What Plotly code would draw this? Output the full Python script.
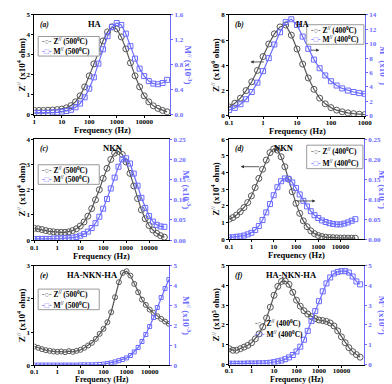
import plotly.graph_objects as go

GRAY = '#575757'
BLUE = '#6b6bff'
FONT = 'Liberation Serif'
W, H = 392, 384

# ---- data ----
FREQ_A = [1, 1.47, 2.15, 3.16, 4.64, 6.81, 10, 14.7, 21.5, 31.6, 46.4, 68.1,
          100, 147, 215, 316, 464, 681, 1000, 1470, 2150, 3160, 4640, 6810,
          10000, 14700, 21500, 31600, 46400, 68100]
Z_A = [0.22, 0.22, 0.22, 0.23, 0.24, 0.26, 0.29, 0.35, 0.46, 0.65, 0.95, 1.4,
       1.95, 2.55, 3.15, 3.7, 4.15, 4.4, 4.3, 3.9, 3.3, 2.6, 1.95, 1.4,
       0.95, 0.65, 0.45, 0.32, 0.22, 0.15]
M_A = [0.03, 0.03, 0.03, 0.03, 0.04, 0.04, 0.05, 0.06, 0.08, 0.12, 0.18, 0.28,
       0.42, 0.6, 0.82, 1.05, 1.26, 1.41, 1.47, 1.44, 1.3, 1.1, 0.9, 0.74,
       0.62, 0.54, 0.5, 0.49, 0.51, 0.56]

FREQ_B = [0.1, 0.147, 0.215, 0.316, 0.464, 0.681, 1, 1.47, 2.15, 3.16, 4.64,
          6.81, 10, 14.7, 21.5, 31.6, 46.4, 68.1, 100, 147, 215, 316, 464,
          681, 1000]
Z_B = [0.7, 1.0, 1.4, 2.0, 2.7, 3.6, 4.7, 5.7, 6.5, 7.05, 7.2, 6.4, 5.3, 4.1,
       3.0, 2.1, 1.4, 0.95, 0.65, 0.45, 0.32, 0.23, 0.17, 0.13, 0.1]
M_B = [0.8, 1.1, 1.6, 2.3, 3.3, 4.6, 6.2, 8.0, 9.9, 11.6, 13.0, 13.4, 12.6,
       11.0, 9.3, 7.8, 6.6, 5.6, 4.8, 4.2, 3.8, 3.5, 3.3, 3.15, 3.05]

FREQ_CD = [0.1, 0.147, 0.215, 0.316, 0.464, 0.681, 1, 1.47, 2.15, 3.16, 4.64,
           6.81, 10, 14.7, 21.5, 31.6, 46.4, 68.1, 100, 147, 215, 316, 464,
           681, 1000, 1470, 2150, 3160, 4640, 6810, 10000, 14700, 21500,
           31600, 46400]
Z_C = [0.47, 0.45, 0.42, 0.38, 0.35, 0.33, 0.31, 0.31, 0.31, 0.33, 0.38, 0.45,
       0.56, 0.72, 0.95, 1.25, 1.6, 2.0, 2.45, 2.85, 3.2, 3.45, 3.52, 3.4,
       3.1, 2.65, 2.15, 1.65, 1.2, 0.85, 0.58, 0.4, 0.27, 0.18, 0.12]
M_C = [0.003, 0.003, 0.003, 0.003, 0.003, 0.004, 0.004, 0.004, 0.005, 0.005,
       0.006, 0.008, 0.011, 0.015, 0.021, 0.03, 0.042, 0.058, 0.078, 0.102,
       0.128, 0.155, 0.182, 0.2, 0.203, 0.19, 0.165, 0.135, 0.105, 0.08,
       0.06, 0.046, 0.038, 0.034, 0.033]
Z_D = [1.2, 1.3, 1.45, 1.65, 1.9, 2.2, 2.6, 3.1, 3.65, 4.2, 4.75, 5.2, 5.42,
       5.35, 4.95, 4.35, 3.6, 2.85, 2.15, 1.55, 1.1, 0.75, 0.5, 0.33, 0.22,
       0.16, 0.12, 0.1, 0.09, 0.08, 0.07, 0.07, 0.06, 0.06, 0.06]
M_D = [0.004, 0.005, 0.006, 0.007, 0.009, 0.012, 0.016, 0.023, 0.033, 0.048,
       0.067, 0.088, 0.11, 0.13, 0.145, 0.152, 0.151, 0.142, 0.128, 0.112,
       0.096, 0.082, 0.07, 0.06, 0.053, 0.047, 0.043, 0.04, 0.038, 0.037,
       0.037, 0.039, 0.042, 0.046, 0.05]

FREQ_EF = [0.1, 0.147, 0.215, 0.316, 0.464, 0.681, 1, 1.47, 2.15, 3.16, 4.64,
           6.81, 10, 14.7, 21.5, 31.6, 46.4, 68.1, 100, 147, 215, 316, 464,
           681, 1000, 1470, 2150, 3160, 4640, 6810, 10000, 14700, 21500,
           31600, 46400, 68100]
Z_E = [0.57, 0.53, 0.49, 0.46, 0.44, 0.42, 0.41, 0.42, 0.4, 0.43, 0.41, 0.44,
       0.47, 0.53, 0.6, 0.68, 0.8, 0.95, 1.1, 1.3, 1.6, 2.05, 2.5, 2.78,
       2.83, 2.7, 2.45, 2.2, 1.98, 1.82, 1.68, 1.58, 1.48, 1.4, 1.32, 1.25]
M_E = [0.02, 0.02, 0.02, 0.02, 0.02, 0.02, 0.02, 0.02, 0.02, 0.02, 0.02, 0.02,
       0.03, 0.03, 0.03, 0.03, 0.04, 0.05, 0.07, 0.1, 0.13, 0.18, 0.24, 0.3,
       0.38, 0.5, 0.68, 0.9, 1.2, 1.55, 1.95, 2.4, 2.9, 3.4, 3.85, 4.3]
Z_F = [0.8, 0.72, 0.72, 0.8, 0.88, 0.97, 1.1, 1.3, 1.55, 1.9, 2.35, 2.9, 3.5,
       3.95, 4.2, 4.22, 4.05, 3.65, 3.25, 2.95, 2.72, 2.55, 2.42, 2.32, 2.25,
       2.22, 2.18, 2.1, 1.95, 1.7, 1.4, 1.1, 0.85, 0.65, 0.5, 0.37]
M_F = [0.04, 0.04, 0.04, 0.04, 0.04, 0.05, 0.05, 0.05, 0.06, 0.06, 0.07, 0.09,
       0.12, 0.16, 0.2, 0.27, 0.36, 0.48, 0.66, 0.9, 1.25, 1.7, 2.2, 2.7,
       3.2, 3.7, 4.1, 4.4, 4.6, 4.68, 4.72, 4.72, 4.65, 4.45, 4.2, 4.05]

X_TICKS_A = [1, 10, 100, 1000, 10000]
X_TICKS_B = [0.1, 1, 10, 100, 1000]
X_TICKS = [0.1, 1, 10, 100, 1000, 10000]

PANELS = [
    dict(tag='(a)', name='HA', freq=FREQ_A, z=Z_A, m=M_A, temp='500',
         box=(23, 3, 163, 105), xr=(0, 4.94), xt=X_TICKS_A,
         zmax=5, zdt=1, zexp='4', mmax=1.6, mdt=0.4, mfmt='.1f',
         title_x=86, leg=(27, 25, 90, 45, True)),
    dict(tag='(b)', name='HA', freq=FREQ_B, z=Z_B, m=M_B, temp='400',
         box=(224, 3, 364, 106), xr=(-1, 3), xt=X_TICKS_B,
         zmax=8, zdt=2, zexp='6', mmax=14, mdt=2, mfmt='d',
         title_x=300, leg=(304, 13, 363, 33, True)),
    dict(tag='(c)', name='NKN', freq=FREQ_CD, z=Z_C, m=M_C, temp='500',
         box=(23, 130, 162, 233), xr=(-1, 4.87), xt=X_TICKS,
         zmax=4, zdt=1, zexp='4', mmax=0.25, mdt=0.05, mfmt='.2f',
         title_x=104, leg=(27, 156, 90, 176, True)),
    dict(tag='(d)', name='NKN', freq=FREQ_CD, z=Z_D, m=M_D, temp='400',
         box=(224, 130, 363, 232), xr=(-1, 5.05), xt=X_TICKS,
         zmax=6, zdt=1, zexp='4', mmax=0.25, mdt=0.05, mfmt='.2f',
         title_x=281, leg=(304, 136, 362, 160, True)),
    dict(tag='(e)', name='HA-NKN-HA', freq=FREQ_EF, z=Z_E, m=M_E, temp='500',
         box=(23, 259, 162, 361), xr=(-1, 4.84), xt=X_TICKS,
         zmax=3, zdt=1, zexp='4', mmax=5, mdt=1, mfmt='d',
         title_x=83, leg=(27, 283, 90, 304, True)),
    dict(tag='(f)', name='HA-NKN-HA', freq=FREQ_EF, z=Z_F, m=M_F, temp='400',
         box=(224, 259, 363, 360), xr=(-1, 5.0), xt=X_TICKS,
         zmax=5, zdt=1, zexp='5', mmax=5, mdt=1, mfmt='d',
         title_x=288, leg=(247, 312, 315, 335, False)),
]


def fx(px):
    return px / W


def fy(py):
    return 1 - py / H


fig = go.Figure()
annotations = []
shapes = []
layout = dict(
    width=W, height=H,
    margin=dict(l=0, r=0, t=0, b=0),
    paper_bgcolor='white', plot_bgcolor='white',
    showlegend=False,
    font=dict(family=FONT, size=7, color='black', weight='bold'),
)

for i, p in enumerate(PANELS, start=1):
    l, t, r, b = p['box']
    sfx = '' if i == 1 else str(i)
    xa, ya, ya2 = f'x{sfx}', f'y{sfx}', f'y{i + 6}'
    msize = 4 if i == 5 else 5
    bottom_row = i >= 5

    fig.add_trace(go.Scatter(
        x=p['freq'], y=p['z'], xaxis=xa, yaxis=ya,
        name=f"Z'' ({p['temp']} C)", mode='lines+markers',
        line=dict(color=GRAY, width=1.2),
        marker=dict(symbol='circle-open', size=msize + 1, color=GRAY,
                    line=dict(width=1, color=GRAY)),
    ))
    fig.add_trace(go.Scatter(
        x=p['freq'], y=p['m'], xaxis=xa, yaxis=ya2,
        name=f"M'' ({p['temp']} C)", mode='lines+markers',
        line=dict(color=BLUE, width=1.2),
        marker=dict(symbol='square-open', size=msize, color=BLUE,
                    line=dict(width=1, color=BLUE)),
    ))

    layout['xaxis' + sfx] = dict(
        domain=[fx(l), fx(r)], anchor=ya, type='log', range=list(p['xr']),
        tickvals=p['xt'], ticktext=[f'{v:g}' for v in p['xt']],
        showline=True, linecolor='black', linewidth=1, mirror=True,
        ticks='outside', ticklen=2, tickcolor='black',
        ticklabelstandoff=-3 if bottom_row else -2,
        showgrid=False, zeroline=False, tickfont=dict(size=7),
    )
    layout['yaxis' + sfx] = dict(
        domain=[fy(b), fy(t)], anchor=xa, range=[0, p['zmax']],
        dtick=p['zdt'], tick0=0, showline=True, linecolor='black',
        ticks='outside', ticklen=2, tickcolor='black',
        showgrid=False, zeroline=False, tickfont=dict(size=7),
    )
    layout[f'yaxis{i + 6}'] = dict(
        overlaying=ya, side='right', anchor=xa, range=[0, p['mmax']],
        dtick=p['mdt'], tick0=0, tickformat=p['mfmt'],
        showline=True, linecolor=BLUE, linewidth=1,
        ticks='outside', ticklen=2, tickcolor=BLUE,
        showgrid=False, zeroline=False, tickfont=dict(size=7, color=BLUE),
    )

    # legend box drawn as text, as in the original figure
    x0, y0, x1, y1, boxed = p['leg']
    if boxed:
        shapes.append(dict(type='rect', xref='paper', yref='paper',
                           x0=fx(x0), x1=fx(x1), y0=fy(y1), y1=fy(y0),
                           line=dict(color='#999999', width=1),
                           fillcolor='white', layer='above'))
    step = (y1 - y0) / 2
    entries = [
        (f'<span style="color:{GRAY}">-○-</span> '
         f"Z<sup>//</sup> ({p['temp']}<sup>0</sup>C)"),
        (f'<span style="color:{BLUE}">-□-</span> '
         f"M<sup>//</sup> ({p['temp']}<sup>0</sup>C)"),
    ]
    for k, txt in enumerate(entries):
        annotations.append(dict(
            text=txt, x=fx(x0 + 2), y=fy(y0 + step * (k + 0.5)),
            xanchor='left', yanchor='middle', font=dict(size=7.5)))

    cy = (t + b) / 2
    annotations += [
        dict(text=p['tag'], x=fx(l + 4), y=fy(t + 3), xanchor='left',
             yanchor='top', font=dict(size=7.5, style='italic')),
        dict(text=p['name'], x=fx(p['title_x']), y=fy(t + 2), xanchor='center',
             yanchor='top', font=dict(size=8.5)),
        dict(text='Frequency (Hz)', x=fx((l + r) / 2),
             y=fy(375.5 if bottom_row else b + 16),
             xanchor='center', yanchor='middle',
             font=dict(size=8 if bottom_row else 8.5), borderpad=0),
        dict(text=f"Z<sup>//</sup> (x10<sup>{p['zexp']}</sup> ohm)",
             x=fx(l - 14), y=fy(cy), textangle=-90, xanchor='center',
             yanchor='middle', font=dict(size=9)),
        dict(text='M<sup>//</sup> (x10<sup>-3</sup>)',
             x=fx(r + 19), y=fy(cy), textangle=90, xanchor='center',
             yanchor='middle', font=dict(size=9, color=BLUE)),
    ]

# arrows pointing each curve to its axis (panels b and d)
ARROWS = [((246, 51), 15), ((317, 39), -10), ((236, 158), 20), ((313, 193), -20)]
for (hx, hy), dx in ARROWS:
    annotations.append(dict(
        x=fx(hx), y=fy(hy), ax=dx, ay=0, text='', showarrow=True,
        arrowhead=2, arrowsize=0.8, arrowwidth=0.8, arrowcolor='#333333',
    ))

for a in annotations:
    a.setdefault('xref', 'paper')
    a.setdefault('yref', 'paper')
    a.setdefault('showarrow', False)

layout['annotations'] = annotations
layout['shapes'] = shapes
fig.update_layout(**layout)
fig.write_html('out.html')
